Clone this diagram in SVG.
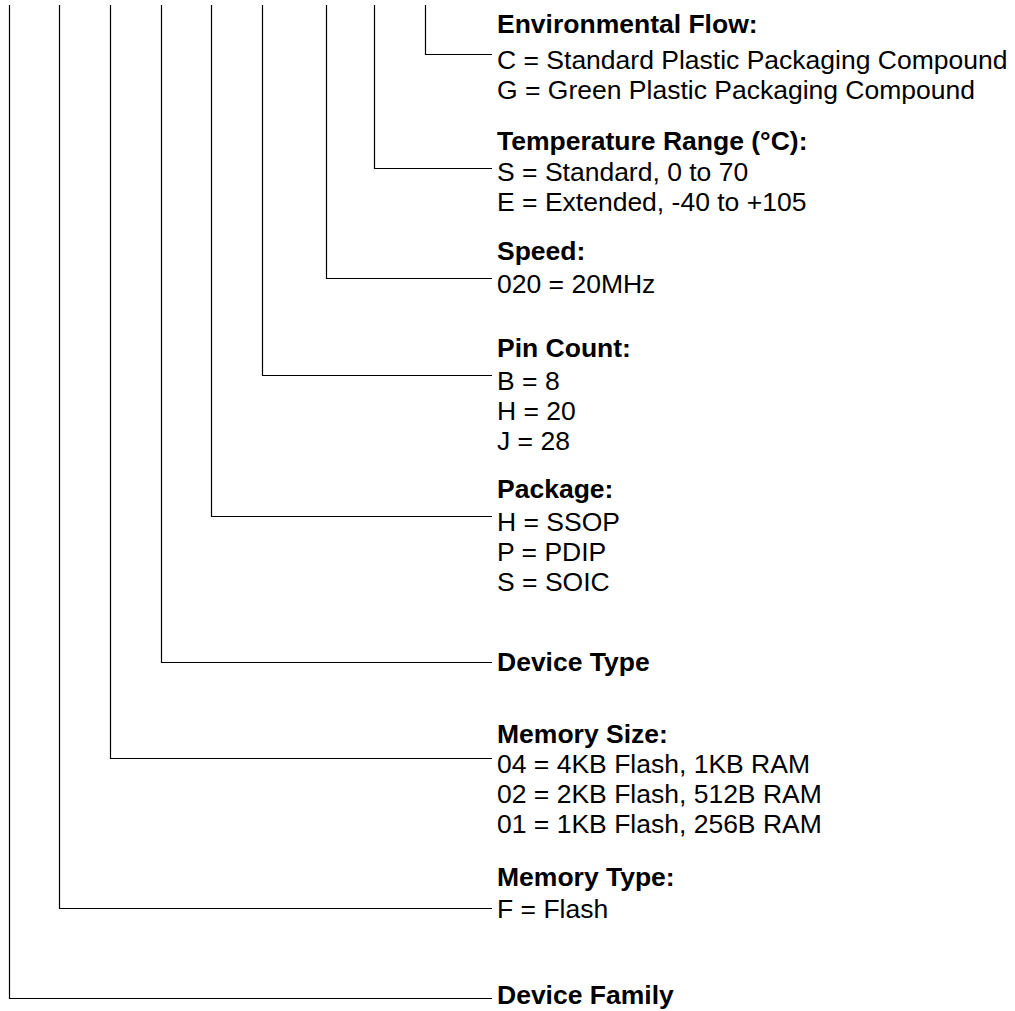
<svg xmlns="http://www.w3.org/2000/svg" width="1015" height="1011" viewBox="0 0 1015 1011">
<style>
text{font-family:"Liberation Sans",Arial,Helvetica,sans-serif;font-size:26.5px;fill:#000}
.t{font-weight:bold}
.c{fill:none;stroke:#000;stroke-width:1.2}
</style>
<rect width="1015" height="1011" fill="#fff"/>
<g id="connectors">
<path class="c" d="M425.5 5V54.5H492"/>
<path class="c" d="M374.5 5V168.5H492"/>
<path class="c" d="M326.5 5V278.5H492"/>
<path class="c" d="M262.5 5V375.5H492"/>
<path class="c" d="M211.5 5V516.5H492"/>
<path class="c" d="M161.5 5V662.5H492"/>
<path class="c" d="M110.5 5V758.5H492"/>
<path class="c" d="M59.5 5V908.5H492"/>
<path class="c" d="M9.5 5V998.5H492"/>
</g>
<g id="environmental-flow">
<text class="t" x="497" y="33">Environmental Flow:</text>
<text x="497" y="69">C = Standard Plastic Packaging Compound</text>
<text x="497" y="99">G = Green Plastic Packaging Compound</text>
</g>
<g id="temperature-range">
<text class="t" x="497" y="150">Temperature Range (°C):</text>
<text x="497" y="181">S = Standard, 0 to 70</text>
<text x="497" y="211">E = Extended, -40 to +105</text>
</g>
<g id="speed">
<text class="t" x="497" y="260">Speed:</text>
<text x="497" y="293">020 = 20MHz</text>
</g>
<g id="pin-count">
<text class="t" x="497" y="357">Pin Count:</text>
<text x="497" y="390">B = 8</text>
<text x="497" y="420">H = 20</text>
<text x="497" y="450">J = 28</text>
</g>
<g id="package">
<text class="t" x="497" y="498">Package:</text>
<text x="497" y="531">H = SSOP</text>
<text x="497" y="561">P = PDIP</text>
<text x="497" y="591">S = SOIC</text>
</g>
<g id="device-type">
<text class="t" x="497" y="671">Device Type</text>
</g>
<g id="memory-size">
<text class="t" x="497" y="743">Memory Size:</text>
<text x="497" y="773">04 = 4KB Flash, 1KB RAM</text>
<text x="497" y="803">02 = 2KB Flash, 512B RAM</text>
<text x="497" y="833">01 = 1KB Flash, 256B RAM</text>
</g>
<g id="memory-type">
<text class="t" x="497" y="886">Memory Type:</text>
<text x="497" y="918">F = Flash</text>
</g>
<g id="device-family">
<text class="t" x="497" y="1004">Device Family</text>
</g>
</svg>
